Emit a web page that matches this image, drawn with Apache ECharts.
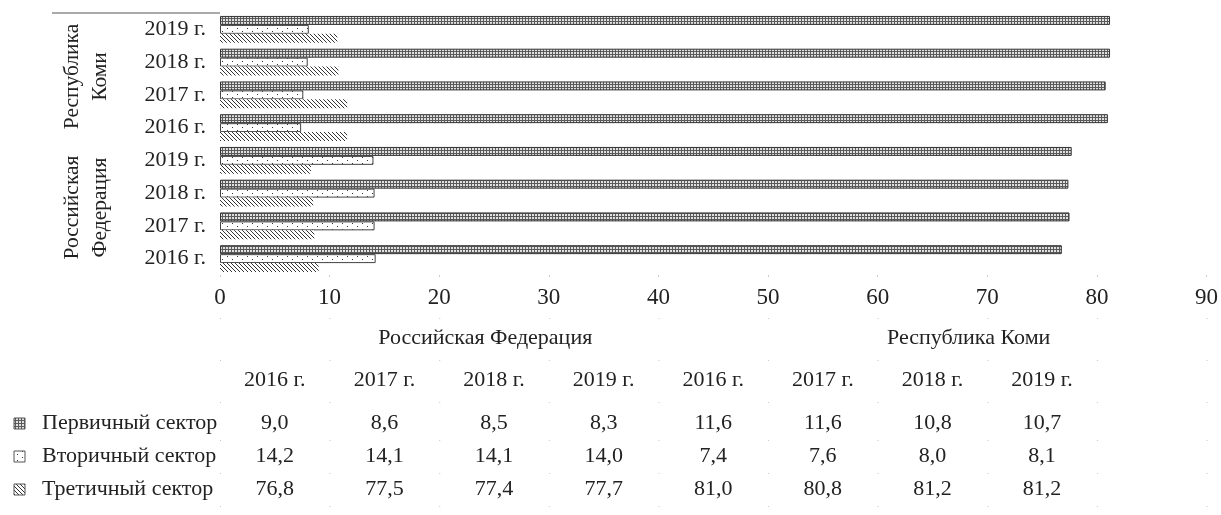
<!DOCTYPE html>
<html>
<head>
<meta charset="utf-8">
<script src="https://cdn.jsdelivr.net/npm/echarts@6/dist/echarts.min.js"></script>
<style>
html,body{margin:0;padding:0;background:#fff;}
#main{width:1221px;height:515px;}
</style>
</head>
<body>
<div id="main"></div>
<script>
// ---- data ----
const regions = ['Российская Федерация', 'Республика Коми'];
const years = ['2016 г.', '2017 г.', '2018 г.', '2019 г.'];
const seriesNames = ['Первичный сектор', 'Вторичный сектор', 'Третичный сектор'];
// order: РФ 2016..2019, РК 2016..2019
const primary   = [9.0, 8.6, 8.5, 8.3, 11.6, 11.6, 10.8, 10.7];
const secondary = [14.2, 14.1, 14.1, 14.0, 7.4, 7.6, 8.0, 8.1];
const tertiary  = [76.8, 77.5, 77.4, 77.7, 81.0, 80.8, 81.2, 81.2];
const xTicks = [0, 10, 20, 30, 40, 50, 60, 70, 80, 90];

const categories = [];
regions.forEach(r => years.forEach(y => categories.push(r + '|' + y)));

const FONT = "'Liberation Serif', 'Times New Roman', serif";
const TXT = '#222';
const FS = 22;

// ---- patterns ----
function makeTile(w, h, draw) {
  const c = document.createElement('canvas');
  c.width = w; c.height = h;
  const ctx = c.getContext('2d');
  draw(ctx);
  return c;
}
const hatchTile = makeTile(4, 4, ctx => {
  ctx.fillStyle = '#fff'; ctx.fillRect(0, 0, 4, 4);
  ctx.fillStyle = '#333';
  for (let i = 0; i < 4; i++) ctx.fillRect(i, i, 1, 1);
});
const dotTile = makeTile(10, 6, ctx => {
  ctx.fillStyle = '#fff'; ctx.fillRect(0, 0, 10, 6);
  ctx.fillStyle = '#333';
  ctx.fillRect(2, 1, 1, 1);
  ctx.fillRect(7, 4, 1, 1);
});
const gridTile = makeTile(3, 3, ctx => {
  ctx.fillStyle = '#e0e0e0'; ctx.fillRect(0, 0, 3, 3);
  ctx.fillStyle = '#5a5a5a';
  ctx.fillRect(0, 0, 3, 1);
  ctx.fillRect(0, 0, 1, 3);
});
const pat = t => ({ image: t, repeat: 'repeat' });

const chart = echarts.init(document.getElementById('main'), null, { renderer: 'canvas' });

// in a horizontal bar chart ECharts stacks series top-down, so the
// series are listed from top bar to bottom bar
const GAP = '18%';
const option = {
  animation: false,
  backgroundColor: '#fff',
  grid: { left: 220, right: 14, top: 13, bottom: 240, containLabel: false },
  xAxis: {
    type: 'value', min: 0, max: 90, interval: 10,
    axisLine: { show: false },
    axisTick: { show: true, length: 2, lineStyle: { color: '#ccc' } },
    splitLine: { show: false },
    axisLabel: { fontFamily: FONT, fontSize: 23, color: TXT, margin: 11,
      formatter: v => xTicks.includes(v) ? String(v) : '' }
  },
  yAxis: {
    type: 'category', data: categories,
    axisLine: { show: false }, axisTick: { show: false },
    axisLabel: { fontFamily: FONT, fontSize: FS, color: TXT, margin: 14,
      formatter: v => v.split('|')[1] }
  },
  series: [
    { name: seriesNames[2], type: 'bar', data: tertiary, barGap: '0%', barCategoryGap: GAP,
      itemStyle: { color: pat(gridTile), borderColor: '#333', borderWidth: 1 } },
    { name: seriesNames[1], type: 'bar', data: secondary, barGap: '0%', barCategoryGap: GAP,
      itemStyle: { color: pat(dotTile), borderColor: '#444', borderWidth: 1 } },
    { name: seriesNames[0], type: 'bar', data: primary, barGap: '0%', barCategoryGap: GAP,
      itemStyle: { color: pat(hatchTile), borderWidth: 0 } }
  ]
};
chart.setOption(option);

// ---- graphic: group labels and data table ----
const fmt = v => v.toFixed(1).replace('.', ',');
const xp = v => chart.convertToPixel({ xAxisIndex: 0 }, v);
const yp = c => chart.convertToPixel({ yAxisIndex: 0 }, c);
const g = [];
const font = FS + 'px ' + FONT;

// top divider of multi-level category axis
const topY = yp(categories[categories.length - 1]) - (yp(categories[0]) - yp(categories[1])) / 2;
g.push({ type: 'line', shape: { x1: 52, y1: topY, x2: xp(0), y2: topY },
  style: { stroke: '#555', lineWidth: 1 } });

// rotated region labels
regions.forEach((r, ri) => {
  const cy = (yp(categories[ri * 4]) + yp(categories[ri * 4 + 3])) / 2;
  const parts = r.split(' ');
  parts.forEach((p, pi) => {
    g.push({ type: 'text', x: 72 + pi * 28, y: cy - 2, rotation: Math.PI / 2,
      style: { text: p, font: '21.5px ' + FONT, fill: TXT, align: 'center', verticalAlign: 'middle' } });
  });
});

// table
const headerY = 338, yearY = 380, rowY = [423, 456, 489];
const headerX = [24.2, 68.3];
regions.forEach((r, ri) => {
  g.push({ type: 'text', x: xp(headerX[ri]), y: headerY,
    style: { text: r, font: font, fill: TXT, align: 'center', verticalAlign: 'middle' } });
});
categories.forEach((c, ci) => {
  const cx = xp(ci * 10 + 5);
  g.push({ type: 'text', x: cx, y: yearY,
    style: { text: c.split('|')[1], font: font, fill: TXT, align: 'center', verticalAlign: 'middle' } });
  [primary, secondary, tertiary].forEach((arr, si) => {
    g.push({ type: 'text', x: cx, y: rowY[si],
      style: { text: fmt(arr[ci]), font: font, fill: TXT, align: 'center', verticalAlign: 'middle' } });
  });
});
// legend keys (as drawn in the reference)
const keyTiles = [gridTile, dotTile, hatchTile];
seriesNames.forEach((n, si) => {
  g.push({ type: 'rect', shape: { x: 14, y: rowY[si] - 5, width: 11, height: 11 },
    style: { fill: pat(keyTiles[si]), stroke: '#555', lineWidth: 1 } });
  g.push({ type: 'text', x: 42, y: rowY[si],
    style: { text: n, font: font, fill: TXT, align: 'left', verticalAlign: 'middle' } });
});
// faint grid dots of the data table
const rowBounds = [318, 360, 402, 440, 473, 506];
for (let k = 0; k <= 9; k++) {
  rowBounds.forEach(by => {
    g.push({ type: 'rect', shape: { x: xp(k * 10), y: by, width: 1, height: 1 }, style: { fill: '#c8c8c8' } });
  });
}
chart.setOption({ graphic: g });
</script>
</body>
</html>
